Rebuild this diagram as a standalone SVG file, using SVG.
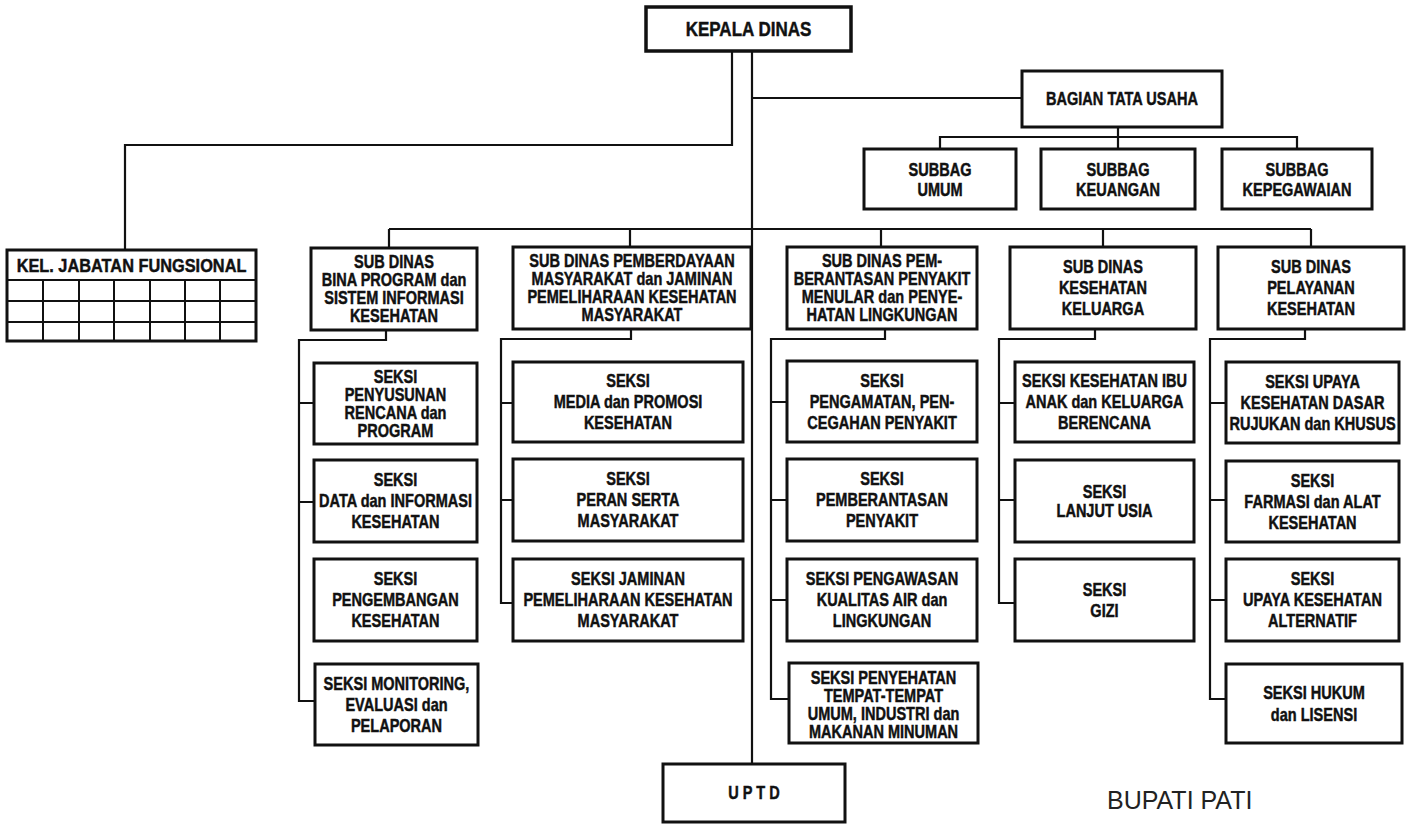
<svg xmlns="http://www.w3.org/2000/svg" width="1412" height="825" viewBox="0 0 1412 825">
<style>
.bx{fill:#fff;stroke:#111;stroke-width:3}
.ln{fill:none;stroke:#111;stroke-width:2.2}
.gr{fill:none;stroke:#111;stroke-width:2}
.t{font-family:"Liberation Sans",Arial,sans-serif;font-weight:bold;font-size:17.5px;fill:#111;stroke:#111;stroke-width:0.45px;text-anchor:middle;transform-box:fill-box;transform-origin:center;transform:scaleX(0.83)}
.big{font-size:20.5px}
.kel{font-size:19px;transform:scaleX(0.86)}
.plain{font-family:"Liberation Sans",Arial,sans-serif;font-size:25px;fill:#222}
</style>
<rect x="0" y="0" width="1412" height="825" fill="#fff"/>
<g id="connectors">
<path class="ln" d="M732,52 V145 H125 V249"/>
<path class="ln" d="M752,52 V763"/>
<path class="ln" d="M752,98 H1021"/>
<path class="ln" d="M1118,128 V148 M940,148 V137 H1297 V148"/>
<path class="ln" d="M389,229 H1311 M389,229 V247 M630,229 V246 M881,229 V246 M1103,229 V246 M1311,229 V246"/>
<path class="ln" d="M386,331 V340 H299 V701 H314 M299,403 H313 M299,502 H313"/>
<path class="ln" d="M631,330 V339 H501 V603 H512 M501,403 H512 M501,500 H512"/>
<path class="ln" d="M885,330 V339 H771 V699 H788 M771,402 H786 M771,500 H786 M771,600 H786"/>
<path class="ln" d="M1095,330 V339 H999 V603 H1014 M999,403 H1014 M999,500 H1014"/>
<path class="ln" d="M1305,330 V339 H1210 V699 H1225 M1210,403 H1225 M1210,500 H1225 M1210,600 H1225"/>
</g>
<g id="kepala-dinas">
<rect class="bx" x="646" y="7" width="205" height="44" style="stroke-width:3.5"/>
<text class="t big" x="748.5" y="36.3">KEPALA DINAS</text>
</g>
<g id="bagian-tata-usaha">
<rect class="bx" x="1022" y="71" width="200" height="56"/>
<text class="t" x="1122" y="105.3">BAGIAN TATA USAHA</text>
</g>
<g id="subbag-umum">
<rect class="bx" x="864" y="149" width="152" height="60"/>
<text class="t"><tspan x="940" y="176">SUBBAG</tspan><tspan x="940" y="196">UMUM</tspan></text>
</g>
<g id="subbag-keuangan">
<rect class="bx" x="1041" y="149" width="154" height="60"/>
<text class="t"><tspan x="1118" y="176">SUBBAG</tspan><tspan x="1118" y="196">KEUANGAN</tspan></text>
</g>
<g id="subbag-kepegawaian">
<rect class="bx" x="1222" y="149" width="150" height="60"/>
<text class="t"><tspan x="1297" y="176">SUBBAG</tspan><tspan x="1297" y="196">KEPEGAWAIAN</tspan></text>
</g>
<g id="kel-jabatan-fungsional">
<rect class="bx" x="7" y="250" width="249" height="91"/>
<path class="gr" d="M7,280 H256 M7,301 H256 M7,322 H256 M43,280 V341 M79,280 V341 M114,280 V341 M150,280 V341 M185,280 V341 M220,280 V341"/>
<text class="t kel" x="131.5" y="272.5">KEL. JABATAN FUNGSIONAL</text>
</g>
<g id="sd-bina-program">
<rect class="bx" x="311" y="248" width="166" height="82"/>
<text class="t"><tspan x="394" y="268.3">SUB DINAS</tspan><tspan x="394" y="286.3">BINA PROGRAM dan</tspan><tspan x="394" y="304.3">SISTEM INFORMASI</tspan><tspan x="394" y="322.3">KESEHATAN</tspan></text>
</g>
<g id="sd-pemberdayaan">
<rect class="bx" x="513" y="247" width="238" height="82"/>
<text class="t"><tspan x="632" y="267.3">SUB DINAS PEMBERDAYAAN</tspan><tspan x="632" y="285.3">MASYARAKAT dan JAMINAN</tspan><tspan x="632" y="303.3">PEMELIHARAAN KESEHATAN</tspan><tspan x="632" y="321.3">MASYARAKAT</tspan></text>
</g>
<g id="sd-p2m-pl">
<rect class="bx" x="787" y="247" width="190" height="82"/>
<text class="t"><tspan x="882" y="267.3">SUB DINAS PEM-</tspan><tspan x="882" y="285.3">BERANTASAN PENYAKIT</tspan><tspan x="882" y="303.3">MENULAR dan PENYE-</tspan><tspan x="882" y="321.3">HATAN LINGKUNGAN</tspan></text>
</g>
<g id="sd-kesehatan-keluarga">
<rect class="bx" x="1010" y="247" width="186" height="82"/>
<text class="t"><tspan x="1103" y="273.3">SUB DINAS</tspan><tspan x="1103" y="294.3">KESEHATAN</tspan><tspan x="1103" y="315.3">KELUARGA</tspan></text>
</g>
<g id="sd-pelayanan-kesehatan">
<rect class="bx" x="1218" y="247" width="186" height="82"/>
<text class="t"><tspan x="1311" y="273.3">SUB DINAS</tspan><tspan x="1311" y="294.3">PELAYANAN</tspan><tspan x="1311" y="315.3">KESEHATAN</tspan></text>
</g>
<g id="seksi-penyusunan">
<rect class="bx" x="314" y="363" width="163" height="81"/>
<text class="t"><tspan x="395.5" y="382.8">SEKSI</tspan><tspan x="395.5" y="400.8">PENYUSUNAN</tspan><tspan x="395.5" y="418.8">RENCANA dan</tspan><tspan x="395.5" y="436.8">PROGRAM</tspan></text>
</g>
<g id="seksi-data">
<rect class="bx" x="314" y="460" width="163" height="82"/>
<text class="t"><tspan x="395.5" y="486.3">SEKSI</tspan><tspan x="395.5" y="507.3">DATA dan INFORMASI</tspan><tspan x="395.5" y="528.3">KESEHATAN</tspan></text>
</g>
<g id="seksi-pengembangan">
<rect class="bx" x="314" y="559" width="163" height="82"/>
<text class="t"><tspan x="395.5" y="585.3">SEKSI</tspan><tspan x="395.5" y="606.3">PENGEMBANGAN</tspan><tspan x="395.5" y="627.3">KESEHATAN</tspan></text>
</g>
<g id="seksi-monitoring">
<rect class="bx" x="315" y="664" width="163" height="81"/>
<text class="t"><tspan x="396.5" y="689.8">SEKSI MONITORING,</tspan><tspan x="396.5" y="710.8">EVALUASI dan</tspan><tspan x="396.5" y="731.8">PELAPORAN</tspan></text>
</g>
<g id="seksi-media">
<rect class="bx" x="513" y="362" width="230" height="80"/>
<text class="t"><tspan x="628" y="387.3">SEKSI</tspan><tspan x="628" y="408.3">MEDIA dan PROMOSI</tspan><tspan x="628" y="429.3">KESEHATAN</tspan></text>
</g>
<g id="seksi-peran-serta">
<rect class="bx" x="513" y="459" width="230" height="82"/>
<text class="t"><tspan x="628" y="485.3">SEKSI</tspan><tspan x="628" y="506.3">PERAN SERTA</tspan><tspan x="628" y="527.3">MASYARAKAT</tspan></text>
</g>
<g id="seksi-jaminan">
<rect class="bx" x="513" y="559" width="230" height="82"/>
<text class="t"><tspan x="628" y="585.3">SEKSI JAMINAN</tspan><tspan x="628" y="606.3">PEMELIHARAAN KESEHATAN</tspan><tspan x="628" y="627.3">MASYARAKAT</tspan></text>
</g>
<g id="seksi-pengamatan">
<rect class="bx" x="787" y="361" width="190" height="81"/>
<text class="t"><tspan x="882" y="386.8">SEKSI</tspan><tspan x="882" y="407.8">PENGAMATAN, PEN-</tspan><tspan x="882" y="428.8">CEGAHAN PENYAKIT</tspan></text>
</g>
<g id="seksi-pemberantasan">
<rect class="bx" x="787" y="459" width="190" height="82"/>
<text class="t"><tspan x="882" y="485.3">SEKSI</tspan><tspan x="882" y="506.3">PEMBERANTASAN</tspan><tspan x="882" y="527.3">PENYAKIT</tspan></text>
</g>
<g id="seksi-pengawasan">
<rect class="bx" x="787" y="559" width="190" height="82"/>
<text class="t"><tspan x="882" y="585.3">SEKSI PENGAWASAN</tspan><tspan x="882" y="606.3">KUALITAS AIR dan</tspan><tspan x="882" y="627.3">LINGKUNGAN</tspan></text>
</g>
<g id="seksi-penyehatan">
<rect class="bx" x="789" y="663" width="189" height="80"/>
<text class="t"><tspan x="883.5" y="684">SEKSI PENYEHATAN</tspan><tspan x="883.5" y="702">TEMPAT-TEMPAT</tspan><tspan x="883.5" y="720">UMUM, INDUSTRI dan</tspan><tspan x="883.5" y="738">MAKANAN MINUMAN</tspan></text>
</g>
<g id="seksi-kia-kb">
<rect class="bx" x="1015" y="362" width="179" height="80"/>
<text class="t"><tspan x="1104.5" y="387.3">SEKSI KESEHATAN IBU</tspan><tspan x="1104.5" y="408.3">ANAK dan KELUARGA</tspan><tspan x="1104.5" y="429.3">BERENCANA</tspan></text>
</g>
<g id="seksi-lansia">
<rect class="bx" x="1015" y="460" width="179" height="82"/>
<text class="t"><tspan x="1104.5" y="497.8">SEKSI</tspan><tspan x="1104.5" y="516.8">LANJUT USIA</tspan></text>
</g>
<g id="seksi-gizi">
<rect class="bx" x="1015" y="559" width="179" height="82"/>
<text class="t"><tspan x="1104.5" y="595.8">SEKSI</tspan><tspan x="1104.5" y="616.8">GIZI</tspan></text>
</g>
<g id="seksi-upaya-dasar">
<rect class="bx" x="1226" y="362" width="173" height="81"/>
<text class="t"><tspan x="1312.5" y="387.8">SEKSI UPAYA</tspan><tspan x="1312.5" y="408.8">KESEHATAN DASAR</tspan><tspan x="1312.5" y="429.8">RUJUKAN dan KHUSUS</tspan></text>
</g>
<g id="seksi-farmasi">
<rect class="bx" x="1226" y="461" width="173" height="81"/>
<text class="t"><tspan x="1312.5" y="486.8">SEKSI</tspan><tspan x="1312.5" y="507.8">FARMASI dan ALAT</tspan><tspan x="1312.5" y="528.8">KESEHATAN</tspan></text>
</g>
<g id="seksi-upaya-alternatif">
<rect class="bx" x="1226" y="559" width="173" height="82"/>
<text class="t"><tspan x="1312.5" y="585.3">SEKSI</tspan><tspan x="1312.5" y="606.3">UPAYA KESEHATAN</tspan><tspan x="1312.5" y="627.3">ALTERNATIF</tspan></text>
</g>
<g id="seksi-hukum">
<rect class="bx" x="1226" y="664" width="176" height="79"/>
<text class="t"><tspan x="1314" y="698.8">SEKSI HUKUM</tspan><tspan x="1314" y="720.8">dan LISENSI</tspan></text>
</g>
<g id="uptd">
<rect class="bx" x="663" y="764" width="182" height="58"/>
<text class="t" x="754" y="799.5">U P T D</text>
</g>
<text class="plain" x="1107" y="809">BUPATI PATI</text>
</svg>
